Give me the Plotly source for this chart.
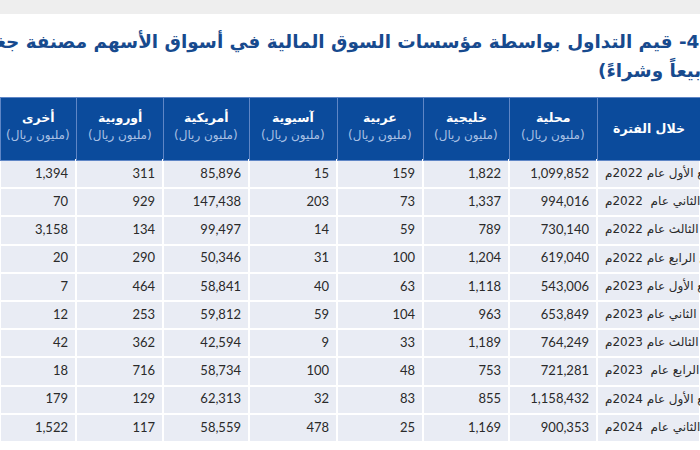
import plotly.graph_objects as go

# ---- data ----
periods = [
    "الربع الأول عام 2022م",
    "الربع الثاني عام  2022م",
    "الربع الثالث عام 2022م",
    "الربع الرابع عام 2022م",
    "الربع الأول عام 2023م",
    "الربع الثاني عام 2023م",
    "الربع الثالث عام 2023م",
    "الربع الرابع عام  2023م",
    "الربع الأول عام 2024م",
    "الربع الثاني عام  2024م",
]
local_vals = [1099852, 994016, 730140, 619040, 543006, 653849, 764249, 721281, 1158432, 900353]
gulf_vals = [1822, 1337, 789, 1204, 1118, 963, 1189, 753, 855, 1169]
arab_vals = [159, 73, 59, 100, 63, 104, 33, 48, 83, 25]
asian_vals = [15, 203, 14, 31, 40, 59, 9, 100, 32, 478]
american_vals = [85896, 147438, 99497, 50346, 58841, 59812, 42594, 58734, 62313, 58559]
european_vals = [311, 929, 134, 290, 464, 253, 362, 716, 129, 117]
other_vals = [1394, 70, 3158, 20, 7, 12, 42, 18, 179, 1522]

col_names = ["أخرى", "أوروبية", "أمريكية", "آسيوية", "عربية", "خليجية", "محلية"]
unit_label = "(مليون ريال)"
period_header = "خلال الفترة"
title_line1 = "جدول 4- قيم التداول بواسطة مؤسسات السوق المالية في أسواق الأسهم مصنفة جغرافياً"
title_line2 = "(بيعاً وشراءً)"

# ---- styles / layout ----
W, H = 700, 450
col_widths = [76, 87, 86, 88, 86, 86, 88, 103]
HEADER_TOP, HEADER_H, ROW_H = 97, 63, 28.2
HEADER_BG = "#0b4b9c"
UNIT_COLOR = "#a9c0e4"
BODY_BG = "#e9ecf4"
TITLE_COLOR = "#174a8e"
NBSP = "\u00a0"

numeric_cols = [other_vals, european_vals, american_vals, asian_vals, arab_vals, gulf_vals, local_vals]
cell_values = [[f"{v:,}" for v in col] for col in numeric_cols] + [[p.replace(" ", NBSP) for p in periods]]

fig = go.Figure(
    go.Table(
        columnwidth=col_widths,
        domain=dict(x=[0, 1], y=[0, 1 - HEADER_TOP / H]),
        header=dict(
            values=[""] * len(col_widths),
            fill_color=HEADER_BG,
            line=dict(color="#5f86c6", width=1),
            height=HEADER_H,
        ),
        cells=dict(
            values=cell_values,
            fill_color=BODY_BG,
            line=dict(color="white", width=2),
            align=["right"] * 7 + ["left"],
            height=ROW_H,
            font=dict(family=["Lato, DejaVu Sans"] * 7 + ["DejaVu Sans"],
                      size=[13] * 7 + [12], color="#2a2a2a"),
        ),
    )
)

# header labels, centred on the table's columns
total_w = sum(col_widths)
edges = [sum(col_widths[:i]) for i in range(len(col_widths) + 1)]
centers = [(edges[i] + edges[i + 1]) / 2 / total_w for i in range(len(col_widths))]
for cx, name in zip(centers[:7], col_names):
    fig.add_annotation(text=f"<b>{name}</b>", xref="paper", yref="paper", x=cx,
                       y=1 - 117 / H, xanchor="center", yanchor="middle", showarrow=False,
                       font=dict(family="DejaVu Sans", size=12.5, color="white"))
    fig.add_annotation(text=unit_label, xref="paper", yref="paper", x=cx,
                       y=1 - 136 / H, xanchor="center", yanchor="middle", showarrow=False,
                       font=dict(family="DejaVu Sans", size=12, color=UNIT_COLOR))
fig.add_annotation(text=f"<b>{period_header}</b>", xref="paper", yref="paper", x=centers[7],
                   y=1 - 128 / H, xanchor="center", yanchor="middle", showarrow=False,
                   font=dict(family="DejaVu Sans", size=12.5, color="white"))

fig.add_shape(type="rect", xref="paper", yref="paper", x0=0, x1=1, y0=1 - 14 / H, y1=1,
              fillcolor="#eeeeee", line=dict(width=0), layer="above")

fig.add_annotation(text=title_line1, xref="paper", yref="paper",
                   x=759 / W, y=1 - 40 / H, xanchor="right", yanchor="middle",
                   showarrow=False,
                   font=dict(family="DejaVu Sans", size=18.4, color=TITLE_COLOR, weight="bold"))
fig.add_annotation(text=title_line2, xref="paper", yref="paper",
                   x=712 / W, y=1 - 69 / H, xanchor="right", yanchor="middle",
                   showarrow=False,
                   font=dict(family="DejaVu Sans", size=18.4, color=TITLE_COLOR, weight="bold"))

fig.update_layout(
    width=W, height=H,
    margin=dict(l=0, r=0, t=0, b=0),
    paper_bgcolor="white", plot_bgcolor="white",
)

fig.write_html("out.html", post_script="document.body.style.margin='0';",
               config={"displayModeBar": False})
